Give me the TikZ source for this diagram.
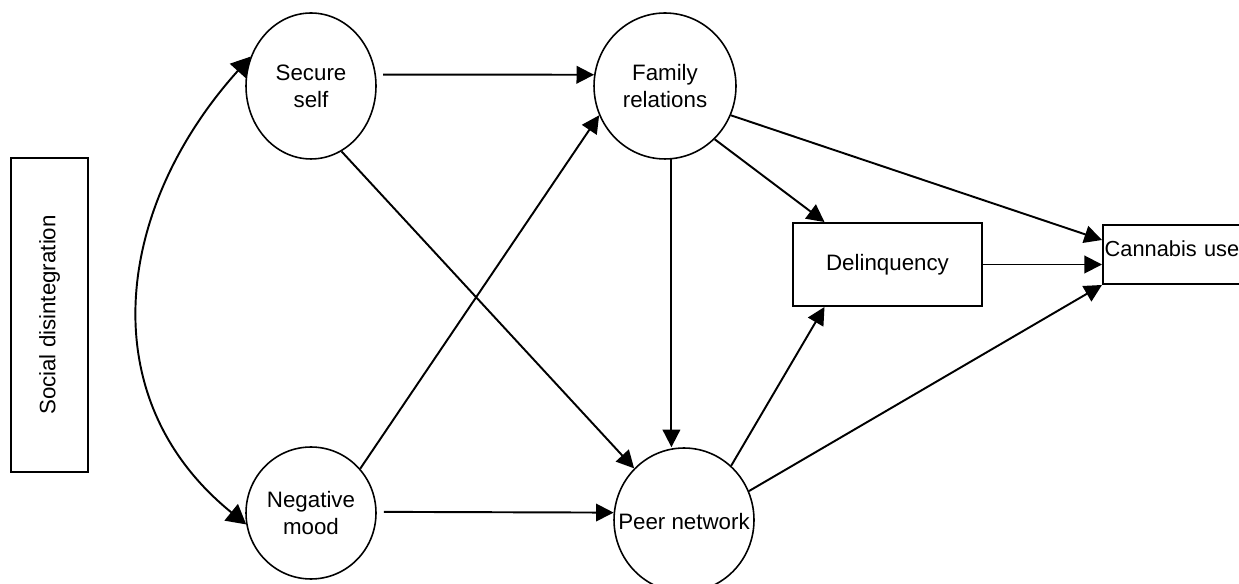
\documentclass[tikz,border=0pt]{standalone}
\usepackage{fontspec}
\setmainfont{Liberation Sans}
\usetikzlibrary{arrows.meta,positioning,calc,shapes.geometric}

\begin{document}
\begin{tikzpicture}[x=0.02cm,y=0.02cm,
  factor/.style={draw,ellipse,line width=0.9pt,inner sep=0pt,align=center,font=\fontsize{12.7}{15.4}\selectfont},
  measure/.style={draw,rectangle,line width=1.1pt,inner sep=1pt,font=\fontsize{12.7}{15.4}\selectfont},
  effect/.style={-{Triangle[length=10pt,width=10pt]},line width=1.1pt}]
\useasboundingbox (0,0) rectangle (1239,584);
% outcome boxes and the latent box
\node[measure,rotate=90,minimum width=6.28cm,minimum height=1.54cm] (social) at (49.5,269) {Social disintegration};
\node[measure,minimum width=3.78cm,minimum height=1.66cm] (delinq) at (887.5,319.5) {Delinquency};
\node[measure,anchor=west,text width=3.2cm,align=left,inner xsep=1pt,minimum height=1.18cm,
  font=\fontsize{12.4}{15}\selectfont,text height=9pt,text depth=7pt] (cannabis) at (1102,329.5) {Cannabis use};
% the four factors
\node[factor,minimum width=2.6cm,minimum height=2.92cm] (secure) at (311,498) {Secure\\self};
\node[factor,minimum width=2.84cm,minimum height=2.92cm] (family) at (665,498) {Family\\relations};
\node[factor,minimum width=2.6cm,minimum height=2.64cm] (neg) at (311,71) {Negative\\mood};
\node[factor,minimum width=2.8cm,minimum height=2.88cm,label={[name=peertext,font=\fontsize{12.7}{15.4}\selectfont,yshift=-0.04cm]center:Peer network}] (peer) at (684,64) {};
% paths
\draw[{Triangle[length=11pt,width=12pt]}-{Triangle[length=11pt,width=12pt]},line width=1.1pt] (secure.154) to[out=228,in=141,looseness=1.1] (neg.190);
\draw[effect,shorten <=4pt] (secure.10) -- (family.171);
\draw[effect] (secure.-65) -- (peer.134);
\draw[effect] (neg.42) -- (family.204);
\draw[effect,shorten <=4pt] (neg.1) -- (peer.174);
\draw[effect] (family.-85) -- (family.-85 |- peer.north);
\draw[effect] (family.-47) -- ($(delinq.north west)!0.17!(delinq.north east)$);
\draw[effect] (family.-24) -- ([yshift=0.29cm]cannabis.west);
\draw[effect] (peer.49) -- ($(delinq.south west)!0.17!(delinq.south east)$);
\draw[effect] (peer.24) -- (cannabis.south west);
\draw[effect] (delinq.east) -- (delinq.east -| cannabis.west);
\end{tikzpicture}
\end{document}
